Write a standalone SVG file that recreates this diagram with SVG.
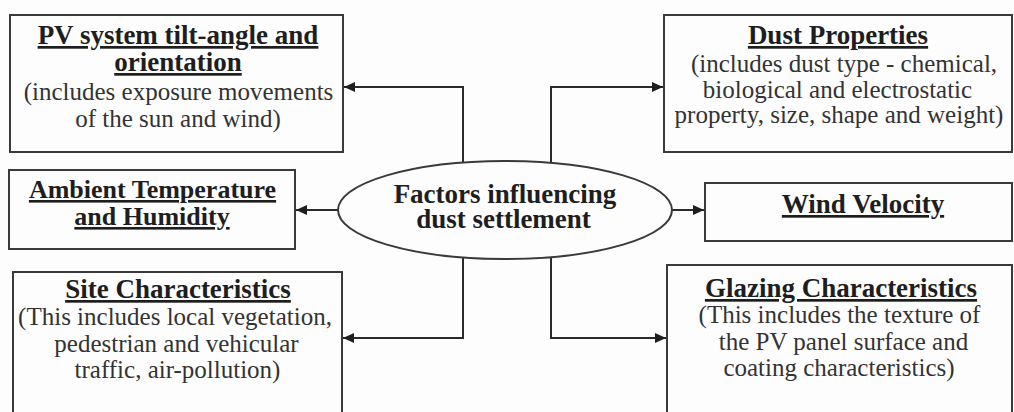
<svg xmlns="http://www.w3.org/2000/svg" width="1014" height="412" viewBox="0 0 1014 412">
<style>
.box{fill:#fdfdfd;stroke:#3a3a3a;stroke-width:2}
.ell{fill:#fdfdfd;stroke:#3a3a3a;stroke-width:2}
.t{font-size:25px;fill:#333;text-anchor:middle}
.b{font-size:27px;font-weight:bold;fill:#1e1e1e;text-decoration:underline}
.c{font-size:27px;font-weight:bold;fill:#1e1e1e;text-anchor:middle}
.con{fill:none;stroke:#2a2a2a;stroke-width:2}
</style>
<defs>
<marker id="arr" markerUnits="userSpaceOnUse" markerWidth="11" markerHeight="10" refX="11" refY="5" orient="auto">
<path d="M0,0 L11,5 L0,10 z" fill="#1e1e1e"/>
</marker>
</defs>
<rect width="1014" height="412" fill="#fdfdfd"/>
<g id="connectors">
<path class="con" d="M463,163 V87 H344" marker-end="url(#arr)"/>
<path class="con" d="M551,163 V87 H663" marker-end="url(#arr)"/>
<path class="con" d="M338,210 H296" marker-end="url(#arr)"/>
<path class="con" d="M672,210 H704" marker-end="url(#arr)"/>
<path class="con" d="M463,257 V338 H343" marker-end="url(#arr)"/>
<path class="con" d="M551,257 V338 H666" marker-end="url(#arr)"/>
</g>
<g id="center">
<ellipse class="ell" cx="505" cy="210" rx="167" ry="49"/>
<text class="c" font-family="Liberation Serif" x="505" y="203">Factors influencing</text>
<text class="c" font-family="Liberation Serif" x="503.5" y="228">dust settlement</text>
</g>
<g id="pv-tilt">
<rect class="box" x="10" y="15" width="333" height="137"/>
<text class="t b" font-family="Liberation Serif" x="178" y="44">PV system tilt-angle and</text>
<text class="t b" font-family="Liberation Serif" x="178" y="71">orientation</text>
<text class="t" font-family="Liberation Serif" x="178.5" y="100">(includes exposure movements</text>
<text class="t" font-family="Liberation Serif" x="178" y="127">of the sun and wind)</text>
</g>
<g id="dust-properties">
<rect class="box" x="664" y="15" width="348" height="137"/>
<text class="t b" font-family="Liberation Serif" x="838" y="44">Dust Properties</text>
<text class="t" font-family="Liberation Serif" x="844" y="72">(includes dust type - chemical,</text>
<text class="t" font-family="Liberation Serif" x="837.5" y="98">biological and electrostatic</text>
<text class="t" font-family="Liberation Serif" x="839" y="123">property, size, shape and weight)</text>
</g>
<g id="ambient">
<rect class="box" x="9" y="170" width="286" height="79"/>
<text class="t b" font-family="Liberation Serif" x="152.5" y="198" style="font-size:26px">Ambient Temperature</text>
<text class="t b" font-family="Liberation Serif" x="152" y="225" style="font-size:26px">and Humidity</text>
</g>
<g id="wind">
<rect class="box" x="705" y="183" width="307" height="58"/>
<text class="t b" font-family="Liberation Serif" x="863" y="213">Wind Velocity</text>
</g>
<g id="site">
<rect class="box" x="13" y="272" width="329" height="150"/>
<text class="t b" font-family="Liberation Serif" x="178" y="298">Site Characteristics</text>
<text class="t" font-family="Liberation Serif" x="175" y="325">(This includes local vegetation,</text>
<text class="t" font-family="Liberation Serif" x="176.5" y="352">pedestrian and vehicular</text>
<text class="t" font-family="Liberation Serif" x="177.5" y="378">traffic, air-pollution)</text>
</g>
<g id="glazing">
<rect class="box" x="667" y="265" width="345" height="157"/>
<text class="t b" font-family="Liberation Serif" x="841" y="297">Glazing Characteristics</text>
<text class="t" font-family="Liberation Serif" x="839.5" y="323">(This includes the texture of</text>
<text class="t" font-family="Liberation Serif" x="843.5" y="350">the PV panel surface and</text>
<text class="t" font-family="Liberation Serif" x="839" y="376">coating characteristics)</text>
</g>
</svg>
